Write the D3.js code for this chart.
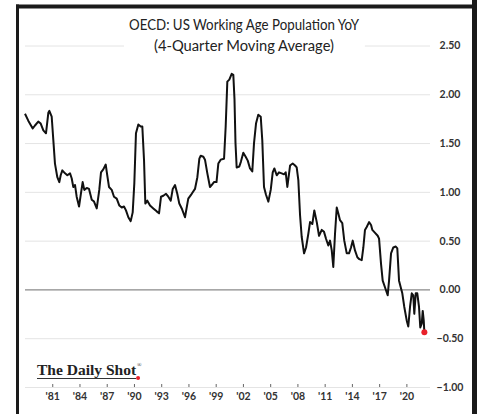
<!DOCTYPE html>
<meta charset="utf-8">
<script src="https://d3js.org/d3.v7.min.js"></script>
<style>
  body { margin: 0; background: #fff; }
</style>
<div id="my_dataviz"></div>
<script>

// decimal year of each reading, and the YoY value (%)
var dates = [1978.00,1978.36,1978.85,1979.10,1979.46,1979.73,1980.02,1980.31,1980.57,1980.68,1980.94,
  1981.12,1981.30,1981.56,1981.78,1981.93,1982.11,1982.41,1982.66,1982.96,1983.14,1983.32,1983.51,1983.69,1983.95,
  1984.17,1984.35,1984.53,1984.80,1985.05,1985.35,1985.60,1985.90,1986.18,1986.37,1986.62,1986.89,1987.06,1987.25,1987.55,1987.80,
  1988.10,1988.39,1988.65,1988.90,1989.12,1989.38,1989.64,1989.86,1990.04,1990.22,1990.48,1990.74,1990.92,1991.11,1991.25,1991.47,1991.77,
  1992.13,1992.50,1992.76,1992.98,1993.23,1993.53,1993.78,1994.05,1994.27,1994.52,1994.77,1994.99,1995.26,1995.62,1995.98,1996.36,1996.72,1996.98,
  1997.20,1997.35,1997.64,1997.82,1998.08,1998.37,1998.56,1998.81,1999.09,1999.29,1999.55,1999.92,2000.10,2000.28,2000.50,2000.76,2000.94,2001.07,2001.18,2001.31,2001.60,2001.78,
  2002.04,2002.30,2002.53,2002.78,2003.03,2003.22,2003.44,2003.69,2003.96,2004.13,2004.32,2004.54,2004.80,2005.06,2005.28,2005.46,2005.72,2005.97,2006.27,2006.52,2006.71,2006.89,
  2007.19,2007.48,2007.74,2007.92,2008.10,2008.29,2008.47,2008.73,2008.95,2009.20,2009.39,2009.64,2009.86,2010.13,2010.38,2010.68,2010.93,2011.15,2011.40,2011.59,2011.78,2011.95,
  2012.14,2012.33,2012.50,2012.69,2012.94,2013.16,2013.43,2013.68,2013.90,2014.09,2014.34,2014.60,2014.82,2015.08,2015.26,2015.44,2015.63,2015.89,2016.11,2016.25,2016.55,2016.84,2016.99,
  2017.21,2017.39,2017.65,2017.94,2018.09,2018.31,2018.56,2018.83,2019.00,2019.19,2019.41,2019.55,2019.77,2020.04,2020.21,2020.40,2020.59,2020.76,2020.87,2021.03,2021.20,2021.39,2021.53,2021.69,2021.80,2021.91,2021.98];

var values = [1.80,1.73,1.65,1.68,1.72,1.70,1.63,1.60,1.81,1.83,1.77,
  1.53,1.29,1.15,1.10,1.17,1.22,1.19,1.17,1.19,1.14,1.05,1.07,0.95,0.85,
  0.99,1.10,1.02,1.04,1.03,0.92,0.90,0.83,1.02,1.20,1.23,1.28,1.17,1.05,1.02,0.95,
  0.93,0.86,0.84,0.85,0.81,0.74,0.70,0.79,1.09,1.60,1.69,1.67,1.67,1.32,0.88,0.91,0.86,
  0.83,0.80,0.78,0.95,0.96,0.98,0.95,0.91,1.03,1.07,0.98,0.88,0.83,0.74,0.93,0.98,1.03,1.15,
  1.34,1.37,1.36,1.33,1.19,1.05,1.07,1.10,1.10,1.29,1.33,1.34,1.67,2.13,2.15,2.21,2.20,1.95,1.50,1.25,1.26,1.31,
  1.40,1.36,1.32,1.24,1.21,1.50,1.70,1.79,1.77,1.53,1.05,0.97,0.90,1.02,1.20,1.24,1.17,1.20,1.19,1.18,1.20,1.05,
  1.27,1.29,1.27,1.25,1.12,0.76,0.54,0.37,0.43,0.57,0.69,0.67,0.81,0.69,0.55,0.61,0.59,0.52,0.45,0.50,0.40,0.23,
  0.57,0.84,0.78,0.71,0.68,0.50,0.37,0.37,0.43,0.50,0.40,0.33,0.31,0.30,0.43,0.61,0.64,0.69,0.66,0.61,0.58,0.55,0.52,
  0.26,0.09,0.02,-0.06,0.09,0.37,0.43,0.44,0.42,0.09,0.01,-0.04,-0.18,-0.32,-0.38,-0.18,-0.04,-0.06,-0.25,-0.04,-0.04,-0.18,-0.39,-0.35,-0.22,-0.32,-0.44];

var xTickYears = [1981,1984,1987,1990,1993,1996,1999,2002,2005,2008,2011,2014,2017,2020];
var yTicks = [-1, -0.5, 0, 0.5, 1, 1.5, 2, 2.5];
var titleLines = ["OECD: US Working Age Population YoY", "(4-Quarter Moving Average)"];

var data = dates.map(function(d, i) { return {date: d, value: values[i]}; });

var W = 477, H = 414;

var svg = d3.select("#my_dataviz")
  .append("svg")
  .attr("width", W)
  .attr("height", H)
  .style("display", "block");

svg.append("rect").attr("width", W).attr("height", H).attr("fill", "#fff");

// scales
var x = d3.scaleLinear().domain([1978, 2022.6]).range([25, 430]);
var y = d3.scaleLinear().domain([-1, 2.5]).range([387, 45.5]);

// right axis with gridlines running left
var yAxis = svg.append("g")
  .attr("transform", "translate(430,0)")
  .call(d3.axisRight(y).tickValues(yTicks).tickSize(-405).tickPadding(20)
    .tickFormat(d3.format(".2f")));
yAxis.select(".domain").remove();
yAxis.selectAll("line")
  .attr("stroke", function(d) { return d === 0 ? "#8a8a8a" : "#e4e4e4"; })
  .attr("stroke-width", function(d) { return d === 0 ? 1.2 : 1; });
yAxis.selectAll("text")
  .attr("text-anchor", "middle")
  .attr("font-family", "Lato, 'Open Sans', sans-serif")
  .attr("font-weight", "bold")
  .attr("font-size", "10.5px")
  .attr("fill", "#333");

// title, with white backing that cuts the top gridline
var titleWidths = [230, 180];
var title = svg.append("g").attr("font-family", "Lato, 'Open Sans', sans-serif")
  .attr("font-size", "14.5px").attr("fill", "#222").attr("text-anchor", "middle");
var titleBg = title.append("rect").attr("fill", "#fff");
title.selectAll("text.t")
  .data(titleLines)
  .enter().append("text")
  .attr("class", "t")
  .attr("x", 244)
  .attr("y", function(d, i) { return 30 + i * 21; })
  .attr("textLength", function(d, i) { return titleWidths[i]; })
  .attr("lengthAdjust", "spacingAndGlyphs")
  .text(function(d) { return d; });
var bb = title.select("text.t").node().getBBox();
titleBg.attr("x", bb.x - 5).attr("y", 12).attr("width", bb.width + 10).attr("height", 40);

// bottom axis
var xAxis = svg.append("g")
  .attr("transform", "translate(0,384)")
  .call(d3.axisBottom(x).tickValues(xTickYears).tickSize(3).tickPadding(6)
    .tickFormat(function(d) { return "'" + String(d).slice(2); }));
xAxis.select(".domain").remove();
xAxis.selectAll("line").attr("stroke", "#666");
xAxis.selectAll("text")
  .attr("font-family", "Lato, 'Open Sans', sans-serif")
  .attr("font-weight", "bold")
  .attr("font-size", "10.5px")
  .attr("fill", "#333");

// the series
svg.append("path")
  .datum(data)
  .attr("fill", "none")
  .attr("stroke", "#111")
  .attr("stroke-width", 2)
  .attr("stroke-linejoin", "round")
  .attr("d", d3.line()
    .x(function(d) { return x(d.date); })
    .y(function(d) { return y(d.value); }));

var last = data[data.length - 1];
svg.append("circle")
  .attr("cx", x(last.date))
  .attr("cy", y(last.value))
  .attr("r", 3)
  .attr("fill", "#e8202a");

// logo: one text element, registered mark as a raised tspan
var logo = svg.append("g");
var logoText = logo.append("text")
  .attr("x", 37).attr("y", 375)
  .attr("font-family", "'Liberation Serif', 'DejaVu Serif', serif")
  .attr("font-size", "15.5px")
  .attr("font-weight", "bold")
  .attr("fill", "#222");
logoText.append("tspan").text("The Daily Shot");
logoText.append("tspan")
  .attr("dx", 1).attr("dy", -8)
  .attr("font-size", "6px")
  .attr("font-weight", "normal")
  .text("®");
var lb = logoText.select("tspan").node().getComputedTextLength();
logo.append("line")
  .attr("x1", 37).attr("x2", 37 + lb).attr("y1", 378.5).attr("y2", 378.5)
  .attr("stroke", "#333").attr("stroke-width", 1);
logo.append("circle").attr("cx", 39 + lb).attr("cy", 378).attr("r", 2).attr("fill", "#e8202a");

// frame
var frame = svg.append("g").attr("stroke", "#1a1a1a").attr("fill", "none");
frame.append("line").attr("x1", 16).attr("x2", 477).attr("y1", 6.5).attr("y2", 6.5).attr("stroke-width", 4);
frame.append("line").attr("x1", 17.5).attr("x2", 17.5).attr("y1", 4.5).attr("y2", H).attr("stroke-width", 3);
frame.append("line").attr("x1", 474.5).attr("x2", 474.5).attr("y1", 0).attr("y2", H).attr("stroke-width", 5);

</script>
